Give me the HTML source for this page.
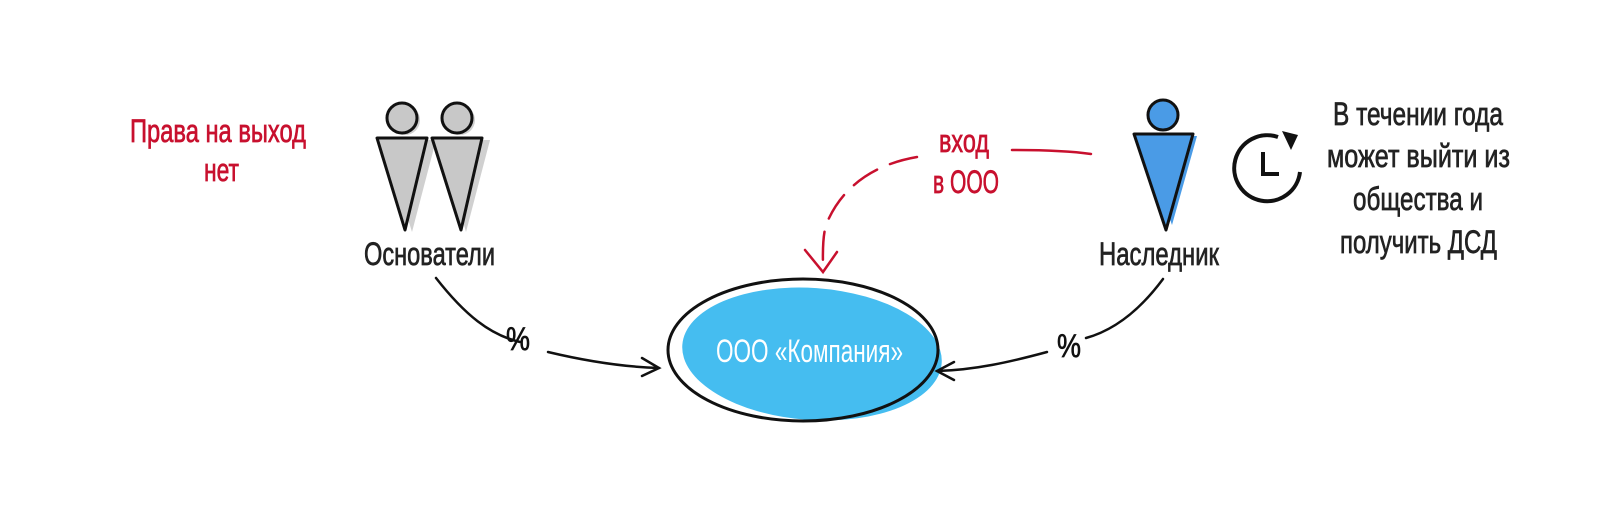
<!DOCTYPE html>
<html><head><meta charset="utf-8"><style>
html,body{margin:0;padding:0;background:#fff;}
svg{display:block;}
text{font-family:"Liberation Sans Narrow","Liberation Sans",sans-serif;font-size:32px;stroke-width:0.7px;}
</style></head><body>
<svg width="1600" height="528" viewBox="0 0 1600 528" xmlns="http://www.w3.org/2000/svg">
<!-- left red text -->
<text x="130" y="142" fill="#c8102e" stroke="#c8102e" textLength="176" lengthAdjust="spacingAndGlyphs">Права на выход</text>
<text x="204" y="181" fill="#c8102e" stroke="#c8102e" textLength="35" lengthAdjust="spacingAndGlyphs">нет</text>

<!-- founders -->
<g stroke="#111" stroke-width="3" stroke-linejoin="round">
<path d="M384 140 L436 140 L412 232 Z" fill="#d0d0d0" stroke="none"/>
<path d="M440 140 L490 140 L466 232 Z" fill="#d0d0d0" stroke="none"/>
<circle cx="405" cy="120" r="15" fill="#d0d0d0" stroke="none"/>
<circle cx="460" cy="120" r="15" fill="#d0d0d0" stroke="none"/>
<circle cx="402" cy="118" r="15" fill="#c8c8c8"/>
<circle cx="457" cy="118" r="15" fill="#c8c8c8"/>
<path d="M377 138 L427 138 L405 230 Z" fill="#c8c8c8"/>
<path d="M432 138 L482 138 L461 230 Z" fill="#c8c8c8"/>
</g>
<text x="364" y="265" fill="#222" stroke="#222" stroke-width="0.5" textLength="131" lengthAdjust="spacingAndGlyphs">Основатели</text>

<!-- heir -->
<g stroke="#111" stroke-width="3" stroke-linejoin="round">
<path d="M1140 136 L1197 136 L1172 225 Z" fill="#4a9be6" stroke="none"/>
<circle cx="1163" cy="115" r="15" fill="#4a9be6"/>
<path d="M1134 134 L1193 134 L1166 230 Z" fill="#4a9be6"/>
</g>
<text x="1099" y="265" fill="#222" stroke="#222" stroke-width="0.5" textLength="120" lengthAdjust="spacingAndGlyphs">Наследник</text>

<!-- clock -->
<g fill="none" stroke="#111" stroke-width="4">
<path d="M1278 137 A33 33 0 1 0 1300 172"/>
<path d="M1263 152 L1263 174 L1279 174"/>
</g>
<path d="M1282 131 L1298 135 L1291 150 Z" fill="#111"/>

<!-- right text -->
<g fill="#222" stroke="#222" stroke-width="0.5">
<text x="1333" y="125" textLength="170" lengthAdjust="spacingAndGlyphs">В течении года</text>
<text x="1327" y="167" textLength="183" lengthAdjust="spacingAndGlyphs">может выйти из</text>
<text x="1353" y="210" textLength="130" lengthAdjust="spacingAndGlyphs">общества и</text>
<text x="1340" y="253" textLength="157" lengthAdjust="spacingAndGlyphs">получить ДСД</text>
</g>

<!-- red dashed connector -->
<g fill="none" stroke="#c8102e" stroke-width="2.5" stroke-linecap="round">
<path d="M1012 150 C1040 150 1070 151 1091 154"/>
<path d="M917 157 C870 165 840 190 826 225 C822 240 823 255 823 270" stroke-dasharray="28 14"/>
<path d="M805 250 L823 272 L837 252"/>
</g>
<text x="939" y="152" fill="#c8102e" stroke="#c8102e" textLength="50" lengthAdjust="spacingAndGlyphs">вход</text>
<text x="933" y="193" fill="#c8102e" stroke="#c8102e" textLength="66" lengthAdjust="spacingAndGlyphs">в ООО</text>

<!-- ellipse -->
<ellipse cx="812" cy="354" rx="130" ry="66" fill="#45bdf0" transform="rotate(4 812 354)"/>
<ellipse cx="803" cy="350" rx="135" ry="71" fill="none" stroke="#111" stroke-width="3"/>
<text x="716" y="362" fill="#fff" font-size="33" textLength="187" lengthAdjust="spacingAndGlyphs">ООО «Компания»</text>

<!-- arrows -->
<g fill="none" stroke="#111" stroke-width="2.5" stroke-linecap="round">
<path d="M436 278 C465 315 490 335 520 342"/>
<path d="M548 352 C590 362 625 367 659 368"/>
<path d="M642 358 L659 368 L642 376"/>
<path d="M1163 279 C1140 310 1115 330 1086 338"/>
<path d="M1047 352 C1010 362 975 370 937 371"/>
<path d="M954 362 L937 371 L954 380"/>
</g>
<text x="506" y="350" fill="#111" stroke="#111" font-size="30" textLength="24" lengthAdjust="spacingAndGlyphs">%</text>
<text x="1057" y="357" fill="#111" stroke="#111" font-size="30" textLength="24" lengthAdjust="spacingAndGlyphs">%</text>
</svg>
</body></html>
